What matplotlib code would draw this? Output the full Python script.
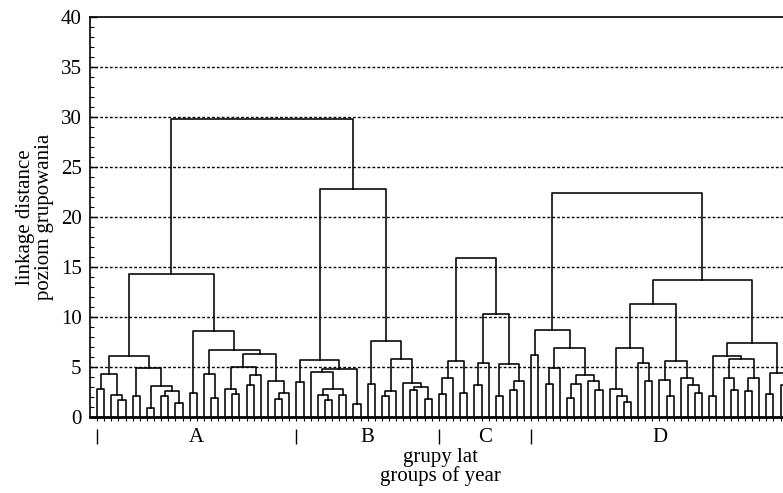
import matplotlib
matplotlib.use('Agg')
import matplotlib.pyplot as plt
from matplotlib.ticker import MultipleLocator

_ = None  # a single year (leaf)

# cluster trees: (linkage distance, left branch, right branch)
group_A = (14.3,
           (6.1, (4.3, (2.8, _, _), (2.2, _, (1.7, _, _))),
                 (4.9, (2.1, _, _), (3.1, (0.9, _, _), (2.6, (2.1, _, _), (1.4, _, _))))),
           (8.6, (2.4, _, _),
                 (6.7, (4.3, _, (1.9, _, _)),
                       (6.3, (5.0, (2.8, _, (2.3, _, _)), (4.2, (3.2, _, _), _)),
                             (3.6, _, (2.4, (1.8, _, _), _))))))
group_B = (22.8,
           (5.7, (3.5, _, _),
                 (4.8, (4.5, _, (2.8, (2.2, _, (1.7, _, _)), (2.2, _, _))), (1.3, _, _))),
           (7.6, (3.3, _, _),
                 (5.8, (2.6, (2.1, _, _), _), (3.4, _, (3.0, (2.7, _, _), (1.8, _, _))))))
group_C = (15.9,
           (5.6, (3.9, (2.3, _, _), _), (2.4, _, _)),
           (10.3, (5.4, (3.2, _, _), _), (5.3, (2.1, _, _), (3.6, (2.7, _, _), _))))
group_D = (22.4,
           (8.7, (6.2, _, _),
                 (6.9, (4.9, (3.3, _, _), _),
                       (4.2, (3.3, (1.9, _, _), _), (3.6, _, (2.7, _, _))))),
           (13.7,
            (11.3, (6.9, (2.8, _, (2.1, _, (1.5, _, _))), (5.4, _, (3.6, _, _))),
                   (5.6, (3.7, _, (2.1, _, _)), (3.9, _, (3.2, _, (2.4, _, _))))),
            (7.4, (6.1, (2.1, _, _), (5.8, (3.9, _, (2.7, _, _)), (3.9, (2.6, _, _), _))),
                  (4.4, (2.3, _, _), (3.2, _, _)))))
AB_link = 29.8

trees = [(AB_link, group_A, group_B), group_C, group_D]
group_names = ['A', 'B', 'C', 'D']
group_trees = [group_A, group_B, group_C, group_D]

y_ticks = [0, 5, 10, 15, 20, 25, 30, 35, 40]
y_grid = [5, 10, 15, 20, 25, 30, 35]


def n_leaves(node):
    if node is None:
        return 1
    return n_leaves(node[1]) + n_leaves(node[2])


def draw(ax, node, start):
    # returns centre, height, number of leaves
    if node is None:
        return start, 0.0, 1
    h, left, right = node
    xl, hl, nl = draw(ax, left, start)
    xr, hr, nr = draw(ax, right, start + nl)
    ax.plot([xl, xl, xr, xr], [hl, h, h, hr], color='k', lw=1.15)
    return (xl + xr) / 2, h, nl + nr


plt.rcParams['font.family'] = ['Liberation Serif', 'DejaVu Serif']

fig = plt.figure(figsize=(7.83, 4.93), dpi=100)
ax = fig.add_axes([90 / 783, 1 - 416.7 / 493, 1 - 90 / 783 + 0.01, 400 / 493])

start = 0
for t in trees:
    _c, _h, n = draw(ax, t, start)
    start += n
total = start

for g in y_grid:
    ax.axhline(g, color='k', lw=1.0, linestyle=(0, (2.0, 1.5)), zorder=0)

ax.set_ylim(0, 40)
ax.set_xlim(-1, total - 1 + 0.45)
ax.set_yticks(y_ticks)
ax.yaxis.set_minor_locator(MultipleLocator(1))
ax.tick_params(axis='y', which='major', direction='in', length=5, width=1,
               labelsize=15, pad=6)
ax.tick_params(axis='y', which='minor', direction='in', length=3, width=0.8)
ax.set_xticks(range(total))
ax.tick_params(axis='x', which='major', direction='out', length=3, width=0.8,
               labelbottom=False)
ax.spines['right'].set_visible(False)
ax.spines['bottom'].set_linewidth(2.0)
ax.spines['left'].set_linewidth(1.2)
ax.spines['top'].set_linewidth(1.2)

# group boundaries and labels
bounds = [0]
for g in group_trees:
    bounds.append(bounds[-1] + n_leaves(g))
bounds[-1] -= 1
tr = ax.get_xaxis_transform()
ax.vlines(bounds, -0.068, -0.03, color='k', lw=1.0, transform=tr, clip_on=False)
for name, a, b in zip(group_names, bounds[:-1], bounds[1:]):
    ax.text((a + b) / 2, -0.052, name, transform=tr, ha='center', va='center',
            fontsize=15)

ax.set_ylabel('linkage distance\npoziom grupowania', fontsize=15, linespacing=1.0)
ax.yaxis.set_label_coords(-0.052, 0.5)
ax.set_xlabel('grupy lat\ngroups of year', fontsize=15, linespacing=0.95)
ax.xaxis.set_label_coords(0.5, -0.078)

fig.savefig('out.png', dpi=100)
